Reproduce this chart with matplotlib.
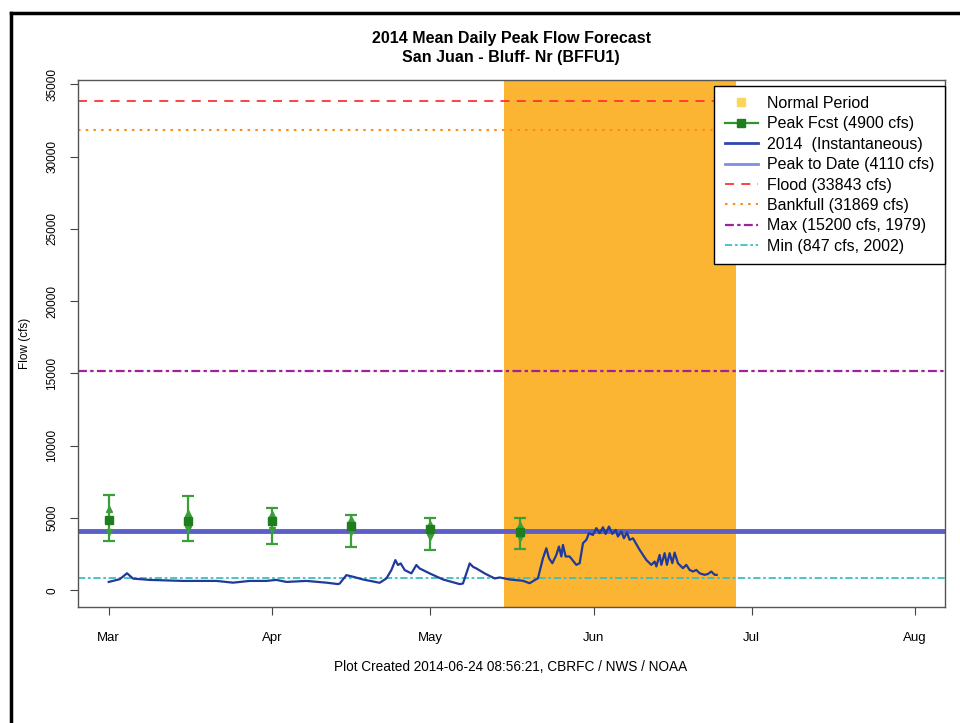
import pandas as pd
import matplotlib
matplotlib.use('Agg')
import matplotlib.pyplot as plt
import matplotlib.dates as mdates
from matplotlib.lines import Line2D

plt.rcParams['font.family'] = ['Liberation Sans', 'DejaVu Sans']

# 2014 instantaneous flow: days after Mar 1 and cfs
flow_days = [0.0, 2.09, 3.47, 4.61, 7.78, 14.09, 20.43, 23.58, 26.74, 29.91,
             31.81, 33.71, 37.5, 41.29, 43.49, 43.82, 45.09, 46.34, 48.24, 51.4,
             52.67, 53.62, 54.38, 54.87, 55.39, 56.15, 57.42, 58.36, 58.99, 60.89,
             63.41, 66.58, 67.2, 68.48, 69.1, 69.75, 71.32, 73.22, 74.16, 76.06,
             78.58, 79.85, 81.43, 82.38, 83.02, 83.52, 84.16, 84.92, 85.41, 85.87,
             86.17, 86.68, 87.44, 88.71, 89.34, 89.97, 90.61, 91.11, 91.86, 92.51,
             93.13, 93.76, 94.27, 94.9, 95.54, 96.17, 96.6, 97.25, 97.74, 98.31,
             98.82, 99.45, 100.72, 101.99, 102.94, 103.57, 103.89, 104.51, 104.84, 105.46,
             105.9, 106.41, 106.92, 107.36, 107.98, 108.93, 109.58, 110.2, 110.83, 111.48,
             112.1, 113.05, 113.68, 114.32, 114.95, 115.33]
flow_cfs = [580, 770, 1180, 810, 720, 650, 650, 530, 650, 650,
            720, 580, 650, 530, 430, 470, 1050, 940, 750, 520,
            820, 1400, 2090, 1750, 1860, 1400, 1170, 1750, 1510, 1170,
            750, 430, 470, 1860, 1630, 1510, 1170, 820, 890, 750,
            660, 490, 840, 2220, 2910, 2220, 1875, 2450, 3030, 2340,
            3140, 2340, 2340, 1760, 1875, 3260, 3490, 3950, 3830, 4300,
            3950, 4360, 3900, 4410, 3900, 4180, 3720, 4070, 3600, 4000,
            3490, 3600, 2800, 2100, 1760, 1990, 1650, 2450, 1760, 2570,
            1760, 2570, 1875, 2610, 1875, 1530, 1760, 1410, 1300, 1410,
            1180, 1070, 1130, 1300, 1070, 1070]

# peak forecasts
fcst_dates = ['2014-03-01', '2014-03-16', '2014-04-01', '2014-04-16', '2014-05-01', '2014-05-18']
fcst_mid = [4890, 4810, 4780, 4470, 4225, 4050]
fcst_hi = [6570, 6490, 5700, 5210, 5005, 4970]
fcst_lo = [3390, 3380, 3210, 3020, 2815, 2840]
fcst_up = [5600, 5380, 5290, 4900, 4600, 4500]
fcst_dn = [4010, 4260, 4160, 4000, 3700, 3600]

normal_start = '2014-05-15'
normal_end = '2014-06-28'

flood = 33843
bankfull = 31869
max_flow = 15200
min_flow = 847
peak_to_date = 4110

fig = plt.figure(figsize=(9.6, 7.23), dpi=100)
ax = fig.add_axes([0.081, 0.160, 0.903, 0.729])

t0 = pd.Timestamp('2014-03-01')
flow_t = t0 + pd.to_timedelta(flow_days, unit='D')
ft = pd.to_datetime(fcst_dates)

ax.axvspan(pd.Timestamp(normal_start), pd.Timestamp(normal_end), color='#FBB532', lw=0, zorder=0)

ax.axhline(flood, color='#FF3333', ls=(0, (5, 4)), lw=1.3)
ax.axhline(bankfull, color='#FF8C1A', ls=(0, (1.2, 2.5)), lw=1.5)
ax.axhline(max_flow, color='#A0229A', ls=(0, (4, 1.5, 1.5, 1.5)), lw=1.6)
ax.axhline(min_flow, color='#3CC0C0', ls=(0, (4, 1.5, 1.5, 1.5)), lw=1.3)
ax.axhline(peak_to_date, color='#5B5FC8', lw=3.5, zorder=2)

ax.plot(flow_t, flow_cfs, color='#1F3A9C', lw=1.6, zorder=3)

lo_err = [m - l for m, l in zip(fcst_mid, fcst_lo)]
hi_err = [h - m for m, h in zip(fcst_mid, fcst_hi)]
ax.errorbar(ft, fcst_mid, yerr=[lo_err, hi_err], fmt='s', color='#2E962E',
            ms=5.5, mfc='#1E7E1E', mec='#1E7E1E', ecolor='#3A9E3A', elinewidth=1.6,
            capsize=4, capthick=1.6, zorder=4)
ax.plot(ft, fcst_up, '^', color='#3A9E3A', ms=4.5, zorder=4)
ax.plot(ft, fcst_dn, 'v', color='#3A9E3A', ms=4.5, zorder=4)

ax.set_xlim(pd.Timestamp('2014-02-23 03:00'), pd.Timestamp('2014-08-06 14:00'))
ax.set_ylim(-1176, 35277)
ax.set_yticks(range(0, 35001, 5000))
ax.set_yticklabels([str(v) for v in range(0, 35001, 5000)], rotation=90, va='center', fontsize=8.5)
ax.xaxis.set_major_locator(mdates.MonthLocator())
ax.xaxis.set_major_formatter(mdates.DateFormatter('%b'))
ax.tick_params(axis='x', labelsize=9.5, pad=12, length=6, color='#444444')
ax.tick_params(axis='y', pad=8, length=6, color='#444444')
for s in ax.spines.values():
    s.set_color('#555555')
    s.set_linewidth(1.0)
ax.set_ylabel('Flow (cfs)', fontsize=8.5, labelpad=11)

ax.set_title('2014 Mean Daily Peak Flow Forecast\nSan Juan - Bluff- Nr (BFFU1)',
             fontsize=11.5, fontweight='bold', pad=13, linespacing=1.35)
fig.text(0.532, 0.077, 'Plot Created 2014-06-24 08:56:21, CBRFC / NWS / NOAA',
         ha='center', va='center', fontsize=9.8)

handles = [
    Line2D([], [], ls='none', marker='s', color='#FDD55A', ms=6),
    Line2D([], [], color='#2E962E', marker='s', mfc='#1E7E1E', mec='#1E7E1E', ms=6, lw=1.6),
    Line2D([], [], color='#3048B0', lw=2),
    Line2D([], [], color='#7F8EE0', lw=2),
    Line2D([], [], color='#FF3333', ls=(0, (5, 4)), lw=1.3),
    Line2D([], [], color='#FF8C1A', ls=(0, (1.2, 2.5)), lw=1.5),
    Line2D([], [], color='#A0229A', ls=(0, (4, 1.5, 1.5, 1.5)), lw=1.6),
    Line2D([], [], color='#3CC0C0', ls=(0, (4, 1.5, 1.5, 1.5)), lw=1.3),
]
labels = ['Normal Period', 'Peak Fcst (4900 cfs)', '2014  (Instantaneous)',
          'Peak to Date (4110 cfs)', 'Flood (33843 cfs)', 'Bankfull (31869 cfs)',
          'Max (15200 cfs, 1979)', 'Min (847 cfs, 2002)']
leg = ax.legend(handles, labels, loc='upper right', bbox_to_anchor=(1.0, 0.99),
                fontsize=11.5, frameon=True, fancybox=False, edgecolor='black',
                framealpha=1, borderaxespad=0.0, labelspacing=0.34, handlelength=2.1,
                handletextpad=0.55, borderpad=0.65)
leg.get_frame().set_linewidth(1.0)

# scanned page border
fig.add_artist(Line2D([0.011, 0.011], [0.0, 0.982], color='black', lw=2.5))
fig.add_artist(Line2D([0.011, 1.0], [0.982, 0.982], color='black', lw=2.5))

fig.savefig('out.png', dpi=100)
